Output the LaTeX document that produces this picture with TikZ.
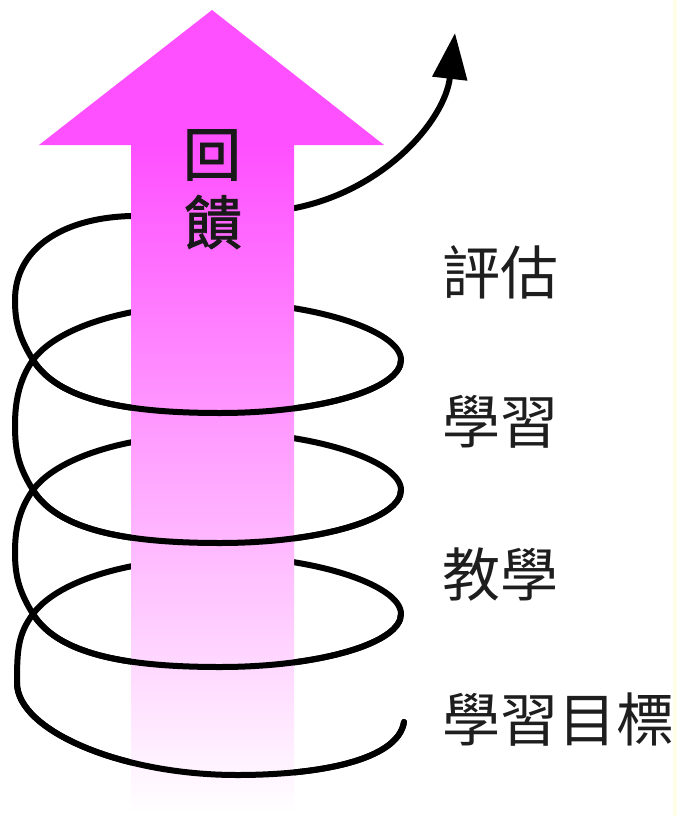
\documentclass[tikz,border=0pt]{standalone}
\usepackage{fontspec}
\newfontfamily\cjk{Noto Sans CJK TC}
\newfontfamily\cjkb[FakeBold=1.5]{Noto Sans CJK TC}
\usetikzlibrary{arrows.meta}
\definecolor{mag}{RGB}{255,80,255}
\definecolor{labelgray}{RGB}{30,30,30}
\newcommand\ringup[1]{ .. controls (55,#1-30) and (120,#1-56) .. (230,#1-57)
 .. controls (310,#1-57) and (401,#1-30) .. (401,#1)
 .. controls (401,#1+29) and (320,#1+53) .. (220,#1+53)
 .. controls (125,#1+53) and (58,#1+40) .. (33,#1)}
\newcommand\linkup[2]{ .. controls (18,#1-24) and (15,#1-40) .. (15,{(#1+#2)/2})
 .. controls (15,{(#1+#2)/2-20}) and (18,#2+21) .. (33,#2)}
\newcommand\frontarc[1]{(401,#1) .. controls (401,#1+29) and (320,#1+53) .. (220,#1+53)
 .. controls (125,#1+53) and (58,#1+40) .. (33,#1)}
\begin{document}
\begin{tikzpicture}[x=1pt,y=-1pt,
  spiral/.style={line width=6pt, black, line cap=round},
  vlabel/.style={font=\cjkb\fontsize{58}{58}\selectfont, text=black!90, inner sep=0pt},
  hlabel/.style={font=\cjk\fontsize{58}{58}\selectfont, text=labelgray, inner sep=0pt, anchor=west}]
\useasboundingbox (0,0) rectangle (677,816);
\fill[white] (0,0) rectangle (677,816);
% spiral (full, rear parts will be hidden by the arrow)
\draw[spiral, -{Triangle[length=46pt,width=34pt]}]
  (404,722) .. controls (398,760) and (320,775) .. (237,775)
  .. controls (120,775) and (17,730) .. (17,683)
  .. controls (17,650) and (18,634) .. (33,614)
  \ringup{614} \linkup{614}{490} \ringup{490} \linkup{490}{360} \ringup{360}
  .. controls (18,336) and (15,320) .. (15,300)
  .. controls (15,250) and (60,218) .. (131,216)
  .. controls (180,214) and (250,212) .. (295,208)
  .. controls (385,190) and (445,120) .. (455,33);
% big feedback arrow
\shade[top color=mag, bottom color=white] (131,145) rectangle (294,813);
\fill[mag] (212,10) -- (384,145) -- (39,145) -- cycle;
% front arcs over the arrow
\draw[spiral] \frontarc{360};
\draw[spiral] \frontarc{490};
\draw[spiral] \frontarc{614};
\draw[spiral] (404,722) .. controls (398,760) and (320,775) .. (237,775)
  .. controls (120,775) and (17,730) .. (17,683);
% texts
\node[vlabel] (hui) at (212,155) {回};
\node[vlabel] (kui) at (213,222) {饋};
\node[hlabel] (pinggu) at (442,272) {評估};
\node[hlabel] (xuexi) at (442,422) {學習};
\node[hlabel] (jiaoxue) at (442,575) {教學};
\node[hlabel] (mubiao) at (442,720) {學習目標};
\fill[yellow!10] (673,0) rectangle (677,816);
\end{tikzpicture}
\end{document}
